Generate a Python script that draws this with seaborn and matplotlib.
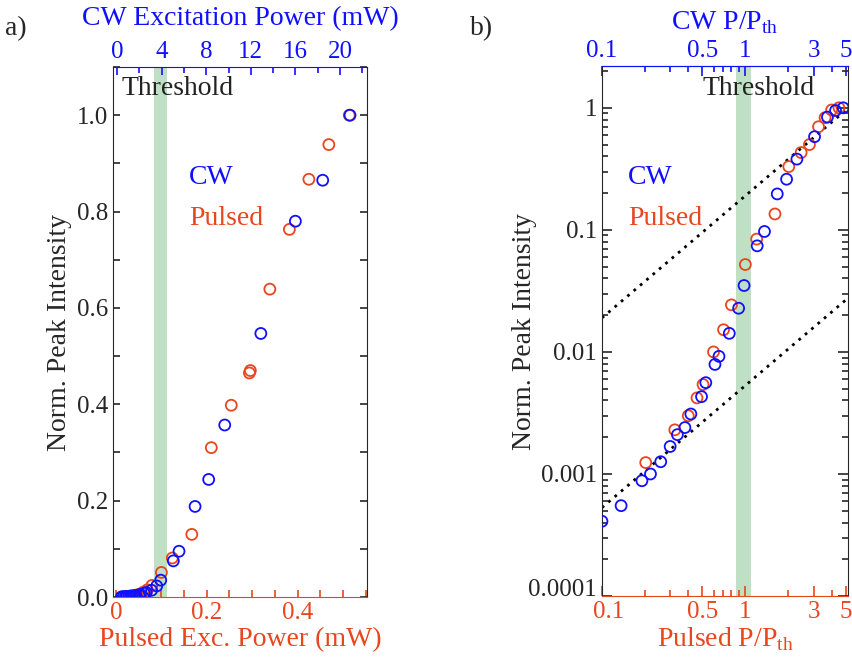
import matplotlib
matplotlib.use("Agg")
import matplotlib.pyplot as plt
from matplotlib.ticker import MultipleLocator, NullFormatter, LogLocator
from matplotlib.transforms import ScaledTranslation
import seaborn as sns

# ---- panel a) linear scale, powers in mW ----
cw_mw = [0.4, 0.55, 0.76, 0.87, 1.03, 1.2, 1.34, 1.52, 1.67, 1.98, 2.1, 2.46, 2.62,
         3.1, 3.56, 3.92, 5.05, 5.56, 7.0, 8.22, 9.66, 12.9, 16.0, 18.45, 20.9]
cw_int = [0.0004, 0.00055, 0.0009, 0.001, 0.0013, 0.0017, 0.0021, 0.0024, 0.0031, 0.0043,
          0.0056, 0.008, 0.0092, 0.014, 0.023, 0.035, 0.075, 0.095, 0.188, 0.244, 0.357,
          0.547, 0.78, 0.865, 1.0]
pulsed_mw = [0.02, 0.032, 0.04, 0.046, 0.051, 0.06, 0.069, 0.079, 0.1, 0.124, 0.167,
             0.21, 0.254, 0.294, 0.296, 0.339, 0.382, 0.425, 0.469, 0.514]
pulsed_int = [0.0012, 0.0023, 0.003, 0.0043, 0.0055, 0.01, 0.015, 0.024, 0.051, 0.081,
              0.13, 0.31, 0.398, 0.465, 0.47, 0.639, 0.763, 0.867, 0.939, 1.0]

# ---- panel b) log-log, P/Pth ----
cw_ratio = [0.1, 0.136, 0.19, 0.218, 0.257, 0.299, 0.336, 0.379, 0.417, 0.495, 0.53,
            0.614, 0.655, 0.773, 0.898, 0.98, 1.21, 1.36, 1.67, 1.94, 2.29, 3.04, 3.74,
            4.26, 4.82]
cw_norm = [0.00041, 0.00055, 0.00088, 0.001, 0.00126, 0.00168, 0.0021, 0.0024, 0.0031,
           0.0043, 0.0056, 0.0079, 0.0092, 0.0142, 0.0228, 0.035, 0.074, 0.097, 0.197,
           0.26, 0.38, 0.58, 0.84, 0.95, 1.0]
pulsed_ratio = [0.202, 0.322, 0.40, 0.46, 0.507, 0.6, 0.705, 0.80, 1.0, 1.2, 1.61, 2.01,
                2.45, 2.8, 3.24, 3.6, 4.0, 4.5]
pulsed_norm = [0.00124, 0.0023, 0.003, 0.0042, 0.0054, 0.01, 0.0152, 0.0243, 0.052,
               0.084, 0.135, 0.33, 0.43, 0.50, 0.70, 0.83, 0.96, 1.0]

# dotted guide lines (slope 1)
guide_x = [0.1, 5.2]
guide_hi = [0.019, 0.99]
guide_lo = [0.00053, 0.0276]

band_pulsed_mw = (0.084, 0.112)
band_ratio = (0.86, 1.09)

cw_ticks = [0, 4, 8, 12, 16, 20]
pulsed_ticks = [0, 0.2, 0.4]
lin_yticks = [0, 0.2, 0.4, 0.6, 0.8, 1.0]
ratio_ticks = [0.1, 0.5, 1, 3, 5]
ratio_labels = ["0.1", "0.5", "1", "3", "5"]
log_yticks = [1e-4, 1e-3, 1e-2, 0.1, 1]
log_ylabels = ["0.0001", "0.001", "0.01", "0.1", "1"]

BLUE = "#1010ff"
RED = "#e8461e"
GREEN = "#bfe0c5"

sns.set_style("ticks")
plt.rcParams["font.family"] = ["Liberation Serif", "DejaVu Serif"]
plt.rcParams["mathtext.fontset"] = "custom"
plt.rcParams["mathtext.rm"] = "Liberation Serif"

fig = plt.figure(figsize=(8.53, 6.57), dpi=100)
axa = fig.add_axes([0.1325, 0.0913, 0.2977, 0.8067])
axb = fig.add_axes([0.7057, 0.0928, 0.2884, 0.8067])


def rings(ax, x, y, col):
    sns.scatterplot(x=x, y=y, ax=ax, s=62, marker="o", facecolor="none",
                    edgecolor=col, linewidth=1.3, zorder=3, legend=False)


# ---------- a) ----------
axa.axvspan(*band_pulsed_mw, color=GREEN, lw=0, zorder=0)
rings(axa, pulsed_mw, pulsed_int, RED)
axa.set_xlim(-0.0066, 0.553)
axa.set_ylim(0, 1.1)
axa.set_xticks(pulsed_ticks, ["0", "0.2", "0.4"])
axa.xaxis.set_minor_locator(MultipleLocator(0.05))
axa.set_yticks(lin_yticks, ["0.0", "0.2", "0.4", "0.6", "0.8", "1.0"])
axa.yaxis.set_minor_locator(MultipleLocator(0.1))
axa.tick_params(axis="both", which="both", direction="in", right=True, top=False,
                labelsize=18, length=5, width=1.2)
axa.tick_params(axis="x", which="both", colors=RED, labelcolor=RED)
axa.spines["bottom"].set_color(RED)
axa.spines["top"].set_visible(False)
axa.set_xlabel("Pulsed Exc. Power (mW)", fontsize=20, color=RED, labelpad=2)
axa.set_ylabel("Norm. Peak Intensity", fontsize=20)
axa.yaxis.set_label_coords(-0.16, 0.5)

axt = axa.twiny()
rings(axt, cw_mw, cw_int, BLUE)
axt.set_xlim(-0.36, 22.42)
axt.set_ylim(0, 1.1)
axt.set_xticks(cw_ticks, [str(t) for t in cw_ticks])
axt.xaxis.set_minor_locator(MultipleLocator(2))
axt.tick_params(axis="x", which="major", direction="in", length=6, width=1.2,
                colors=BLUE, labelcolor=BLUE, labelsize=18, pad=3)
axt.tick_params(axis="x", which="minor", direction="in", length=4, width=1.2, colors=BLUE)
axt.spines["top"].set_color(BLUE)
for s in ["bottom", "left", "right"]:
    axt.spines[s].set_visible(False)
axt.set_xlabel("CW Excitation Power (mW)", fontsize=20, color=BLUE, labelpad=11)

axa.text(0.035, 0.96, "Threshold", transform=axa.transAxes, fontsize=20,
         va="center", ha="left", color="#222222")
axa.text(0.3, 0.792, "CW", transform=axa.transAxes, fontsize=20, color=BLUE,
         va="center", ha="left")
axa.text(0.3, 0.715, "Pulsed", transform=axa.transAxes, fontsize=20, color=RED,
         va="center", ha="left")

# ---------- b) ----------
axb.set_xscale("log")
axb.set_yscale("log")
axb.axvspan(*band_ratio, color=GREEN, lw=0, zorder=0)
sns.lineplot(x=guide_x, y=guide_hi, ax=axb, color="k", lw=2, linestyle=(0, (1, 2)), zorder=2)
sns.lineplot(x=guide_x, y=guide_lo, ax=axb, color="k", lw=2, linestyle=(0, (1, 2)), zorder=2)
rings(axb, pulsed_ratio, pulsed_norm, RED)
rings(axb, cw_ratio, cw_norm, BLUE)
axb.set_xlim(0.1, 5.2)
axb.set_ylim(1e-4, 2.2)
axb.set_xticks(ratio_ticks, ratio_labels)
axb.xaxis.set_minor_formatter(NullFormatter())
axb.set_yticks(log_yticks, log_ylabels)
axb.yaxis.set_minor_locator(LogLocator(base=10, subs=range(2, 10), numticks=20))
axb.yaxis.set_minor_formatter(NullFormatter())
axb.tick_params(axis="both", which="major", direction="in", right=True, top=False,
                labelsize=18, length=7, width=1.2)
axb.tick_params(axis="both", which="minor", direction="in", right=True, top=False,
                length=4, width=1.2)
axb.tick_params(axis="x", which="both", colors=RED, labelcolor=RED)
axb.spines["bottom"].set_color(RED)
axb.spines["top"].set_color(BLUE)
axb.set_xlabel("Pulsed P/P$_{\\mathregular{th}}$", fontsize=20, color=RED, labelpad=2)
axb.set_ylabel("Norm. Peak Intensity", fontsize=20)
axb.yaxis.set_label_coords(-0.265, 0.5)

# nudge the corner labels apart, as in the original
axb.get_xticklabels()[0].set_transform(
    axb.get_xticklabels()[0].get_transform() + ScaledTranslation(5 / 72, 0, fig.dpi_scale_trans))
axb.get_yticklabels()[0].set_transform(
    axb.get_yticklabels()[0].get_transform() + ScaledTranslation(0, 6 / 72, fig.dpi_scale_trans))

sec = axb.secondary_xaxis("top")
sec.set_xticks(ratio_ticks, ratio_labels)
sec.xaxis.set_minor_formatter(NullFormatter())
sec.tick_params(axis="x", which="major", direction="in", length=7, width=1.2,
                colors=BLUE, labelcolor=BLUE, labelsize=18, pad=3)
sec.tick_params(axis="x", which="minor", direction="in", length=4, width=1.2, colors=BLUE)
sec.spines["top"].set_color(BLUE)
sec.set_xlabel("CW P/P$_{\\mathregular{th}}$", fontsize=20, color=BLUE, labelpad=8)

axb.text(0.41, 0.957, "Threshold", transform=axb.transAxes, fontsize=20,
         va="center", ha="left", color="#222222")
axb.text(0.105, 0.79, "CW", transform=axb.transAxes, fontsize=20, color=BLUE,
         va="center", ha="left")
axb.text(0.105, 0.713, "Pulsed", transform=axb.transAxes, fontsize=20, color=RED,
         va="center", ha="left")

fig.text(0.006, 0.975, "a)", fontsize=20, va="top", ha="left")
fig.text(0.551, 0.975, "b)", fontsize=20, va="top", ha="left")

fig.savefig("out.png", dpi=100)
